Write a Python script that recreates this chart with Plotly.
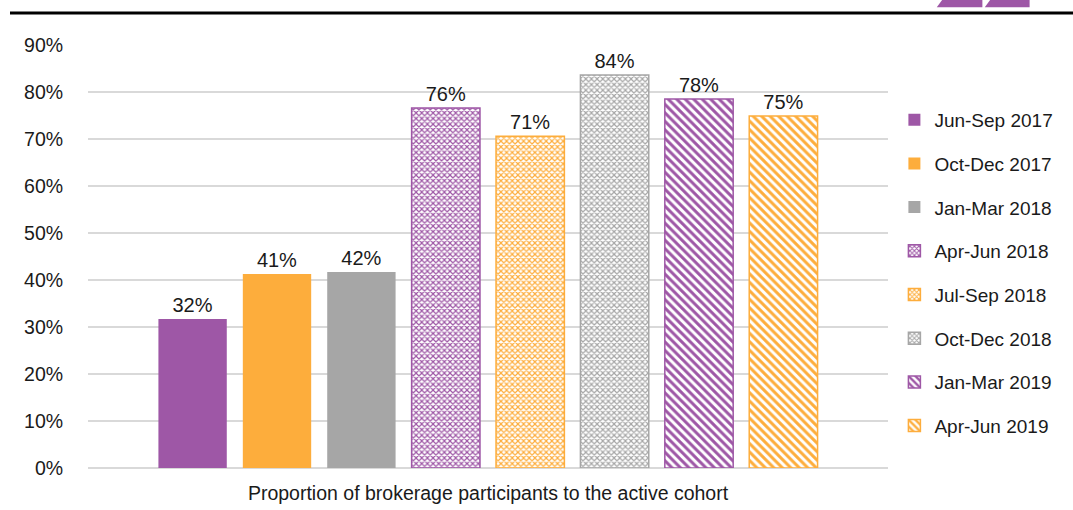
import plotly.graph_objects as go

# ─── Data ─────────────────────────────────────────────────────────────────────

CATEGORY = ["Proportion of brokerage participants to the active cohort"]
PERIODS = [
    "Jun-Sep 2017", "Oct-Dec 2017", "Jan-Mar 2018", "Apr-Jun 2018",
    "Jul-Sep 2018", "Oct-Dec 2018", "Jan-Mar 2019", "Apr-Jun 2019",
]
VALUES = [0.317, 0.413, 0.417, 0.766, 0.706, 0.836, 0.785, 0.749]
LABELS = ["32%", "41%", "42%", "76%", "71%", "84%", "78%", "75%"]

PURPLE = "#9e57a6"
ORANGE = "#fdad3c"
GREY = "#a6a6a6"
COLORS = [PURPLE, ORANGE, GREY, PURPLE, ORANGE, GREY, PURPLE, ORANGE]
PATTERNS = ["", "", "", "x", "x", "x", "\\", "\\"]

FONT = "Liberation Sans, Arial, sans-serif"
TEXT = "#1a1a1a"

fig = go.Figure()

for i, name in enumerate(PERIODS):
    col = COLORS[i]
    shape = PATTERNS[i]
    if shape:
        marker = dict(
            color="white",
            pattern=dict(shape=shape, fgcolor=col, bgcolor="white",
                         size=4 if shape == "x" else 6,
                         solidity=0.5,
                         fillmode="replace"),
            line=dict(color=col, width=1.5),
        )
    else:
        marker = dict(color=col, line=dict(width=0))
    fig.add_trace(go.Bar(
        x=CATEGORY,
        y=[VALUES[i]],
        name=name,
        legendgroup=name,
        marker=marker,
        text=[LABELS[i]],
        textposition="outside",
        textfont=dict(size=20, color=TEXT, family=FONT),
        cliponaxis=False,
    ))

# header rule and logo marks
fig.add_shape(type="line", xref="paper", yref="paper",
              x0=-0.0975, x1=1.24, y0=1.0757, y1=1.0757,
              line=dict(color="black", width=3))
fig.add_shape(type="path", xref="paper", yref="paper",
              path="M 1.061 1.089 L 1.069 1.11 L 1.118 1.11 L 1.118 1.089 Z",
              fillcolor=PURPLE, line=dict(width=0))
fig.add_shape(type="path", xref="paper", yref="paper",
              path="M 1.121 1.089 L 1.129 1.11 L 1.177 1.11 L 1.177 1.089 Z",
              fillcolor=PURPLE, line=dict(width=0))

fig.update_layout(
    width=1073, height=510,
    margin=dict(l=88, r=185, t=45, b=42),
    paper_bgcolor="white",
    plot_bgcolor="white",
    font=dict(family=FONT, size=19.5, color=TEXT),
    barmode="group",
    bargap=0.156,
    bargroupgap=0.19,
    showlegend=True,
    legend=dict(
        x=1.008, xanchor="left", y=0.868, yanchor="top",
        font=dict(size=19, color=TEXT),
        tracegroupgap=16,
        itemwidth=30,
    ),
    xaxis=dict(
        showgrid=False, showline=False, ticks="",
        tickfont=dict(size=19.5, color=TEXT),
        ticklabelstandoff=11,
        automargin=False,
    ),
    yaxis=dict(
        range=[0, 0.9], dtick=0.1, tickformat=".0%",
        showgrid=True, gridcolor="#d9d9d9", gridwidth=2,
        zeroline=True, zerolinecolor="#d9d9d9", zerolinewidth=2,
        showline=False,
        ticks="outside", ticklen=20, tickcolor="rgba(0,0,0,0)",
        tickfont=dict(size=19.5, color=TEXT),
        automargin=False,
    ),
)

# page body has a default 8px margin; drop it so the figure fills the window
fig.write_html("out.html", config={"displayModeBar": False},
               post_script="document.body.style.margin='0';")
